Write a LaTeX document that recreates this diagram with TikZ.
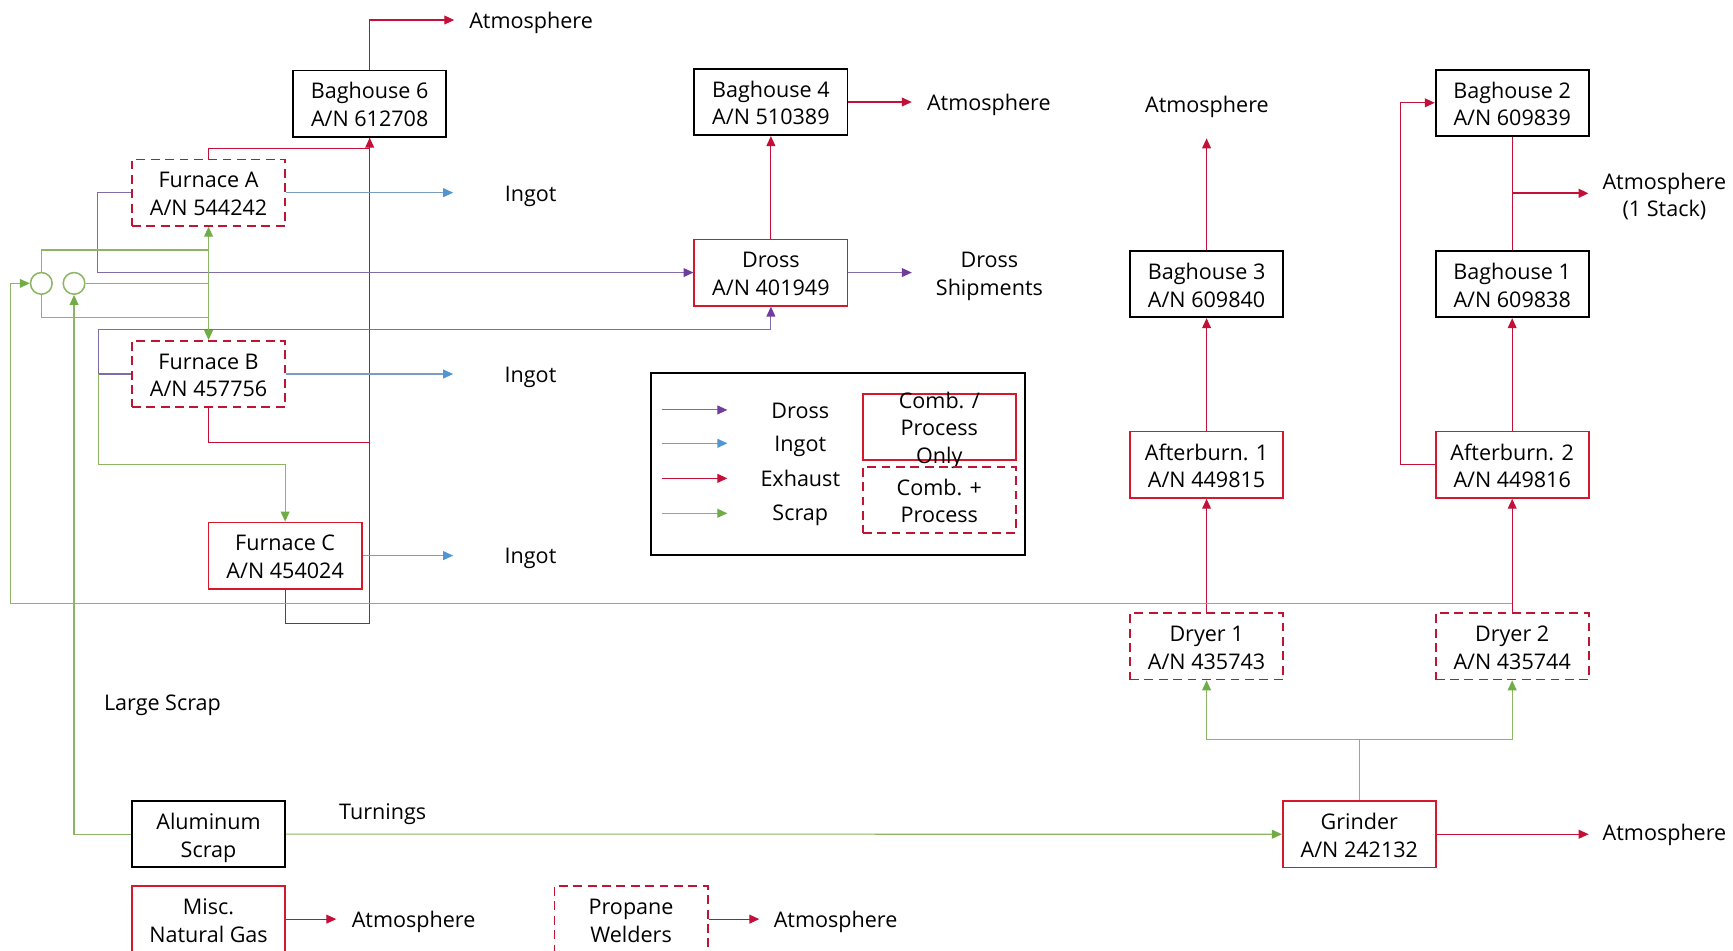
\documentclass[tikz,border=0pt]{standalone}
\usepackage{fontspec}
\setmainfont{Open Sans}
\usetikzlibrary{arrows.meta,calc}
\definecolor{exred}{RGB}{196,16,56}
\definecolor{boxred}{RGB}{214,24,44}
\definecolor{dashred}{RGB}{192,20,52}
\definecolor{scrapg}{RGB}{140,182,100}
\definecolor{scraptip}{RGB}{112,173,71}
\definecolor{drossp}{RGB}{128,108,168}
\definecolor{drosstip}{RGB}{112,60,160}
\definecolor{ingotb}{RGB}{120,158,196}
\definecolor{ingottip}{RGB}{80,150,210}
\newcommand\myfs{\fontsize{19.5}{25}\selectfont}
\newcommand\ftop{\rule{0pt}{22pt}}
\newcommand\fbot{\rule[-5.6pt]{0pt}{5.6pt}}
\begin{document}
\begin{tikzpicture}[x=1pt,y=-1pt,font=\myfs,
  base/.style={minimum width=138.5pt,minimum height=60pt,inner sep=0pt,align=center},
  blackbox/.style={base,draw=black,line width=1.6pt},
  redbox/.style={base,draw=boxred,line width=1.6pt},
  dashbox/.style={base,draw=dashred,line width=1.6pt,dash pattern=on 8pt off 5pt},
  lbl/.style={inner sep=0pt,anchor=base},
  lbl2/.style={inner sep=0pt,align=center},
  exl/.style={draw=exred,line width=1pt},
  exh/.style={exl,-{Triangle[length=9pt,width=8pt]}},
  scl/.style={draw=scrapg,line width=1pt},
  scr/.style={scl,-{Triangle[length=9pt,width=8pt,color=scraptip]}},
  scrb/.style={scl,{Triangle[length=9pt,width=8pt,color=scraptip]}-{Triangle[length=9pt,width=8pt,color=scraptip]}},
  drs/.style={draw=drossp,line width=1pt,-{Triangle[length=9pt,width=8pt,color=drosstip]}},
  ing/.style={draw=ingotb,line width=1pt,-{Triangle[length=9pt,width=8pt,color=ingottip]}},
  ring/.style={circle,draw=scrapg,line width=1.4pt,minimum size=19.6pt,inner sep=0pt}
]
\useasboundingbox (0,0) rectangle (1568,860);
\clip (0,0) rectangle (1568,860);

% ---------- boxes ----------
\node[blackbox] (bh6) at (334.5,93.8) {\ftop Baghouse 6\\A/N 612708\fbot};
\node[blackbox] (bh4) at (697.5,92.3) {\ftop Baghouse 4\\A/N 510389\fbot};
\node[dashbox] (fa) at (188.7,174.3) {\ftop Furnace A\\A/N 544242\fbot};
\node[redbox] (dross) at (697.5,246.6) {\ftop Dross\\A/N 401949\fbot};
\node[dashbox] (fb) at (188.7,338.4) {\ftop Furnace B\\A/N 457756\fbot};
\node[redbox] (fc) at (258,502.7) {\ftop Furnace C\\A/N 454024\fbot};
\node[blackbox] (bh3) at (1091.7,257.1) {\ftop Baghouse 3\\A/N 609840\fbot};
\node[blackbox] (bh2) at (1368.2,93) {\ftop Baghouse 2\\A/N 609839\fbot};
\node[blackbox] (bh1) at (1368.2,257.1) {\ftop Baghouse 1\\A/N 609838\fbot};
\node[redbox] (ab1) at (1091.7,420.5) {\ftop Afterburn. 1\\A/N 449815\fbot};
\node[redbox] (ab2) at (1368.2,420.5) {\ftop Afterburn. 2\\A/N 449816\fbot};
\node[dashbox] (dr1) at (1091.7,584.8) {\ftop Dryer 1\\A/N 435743\fbot};
\node[dashbox] (dr2) at (1368.2,584.8) {\ftop Dryer 2\\A/N 435744\fbot};
\node[redbox] (gr) at (1229.9,754.8) {\ftop Grinder\\A/N 242132\fbot};
\node[blackbox] (al) at (188.7,754.7) {\ftop Aluminum\\Scrap\fbot};
\node[redbox] (misc) at (188.7,831.6) {\ftop Misc.\\Natural Gas\fbot};
\node[dashbox] (prop) at (571,831.6) {\ftop Propane\\Welders\fbot};

% ---------- circles ----------
\node[ring] (c1) at (37.4,256.4) {};
\node[ring] (c2) at (67,256.4) {};

% ---------- labels ----------
\node[lbl] (atm6) at (480.5,25.6) {Atmosphere};
\node[lbl] (inga) at (480.1,181.9) {Ingot};
\node[lbl] (ingb) at (480,345.9) {Ingot};
\node[lbl] (ingc) at (480,509.7) {Ingot};
\node[lbl] (atm4) at (894.7,100.1) {Atmosphere};
\node[lbl2] (dship) at (895.2,246.5) {\ftop Dross\\Shipments\fbot};
\node[lbl] (atm3) at (1092,101.9) {Atmosphere};
\node[lbl2] (atms) at (1505.9,175.6) {\ftop Atmosphere\\(1 Stack)\fbot};
\node[lbl] (atmg) at (1506,760.1) {Atmosphere};
\node[lbl] (atmm) at (374.2,839.3) {Atmosphere};
\node[lbl] (atmp) at (756,839.3) {Atmosphere};
\node[lbl] (lscrap) at (147,642.4) {Large Scrap};
\node[lbl] (turn) at (346.2,741.3) {Turnings};

% ---------- free ends / junctions ----------
\coordinate (t6) at (411,18.1);
\coordinate (tia) at (410,174.3);
\coordinate (tib) at (410,338.4);
\coordinate (tic) at (410,502.7);
\coordinate (t4) at (825,92.3);
\coordinate (td) at (825,246.6);
\coordinate (t3) at (1091.7,125.2);
\coordinate (sj) at (1368.2,174.9);
\coordinate (ts) at (1437.2,174.9);
\coordinate (tg) at (1437.4,754.8);
\coordinate (tm) at (304.3,831.6);
\coordinate (tp) at (687,831.6);
\coordinate (jb) at (89.3,338.4);
\coordinate (pb) at (697.5,298.5);
\coordinate (gc) at (258,420.1);
\coordinate (v1) at (188.7,226.2);
\coordinate (v2) at (188.7,256.4);
\coordinate (v3) at (188.7,287.1);
\coordinate (rc) at (1368.2,545.9);
\coordinate (lc) at (9.7,545.9);

% ---------- exhaust ----------
\draw[exh] (bh6.north) |- (t6);
\draw[exl] (fa.north) -- ++(0,-9.5) -| (bh6.south);
\draw[exl] (fb.south) -- ++(0,31.2) -| (bh6.south);
\draw[exh] (fc.south) -- ++(0,30.6) -| (bh6.south);
\draw[exh] (dross.north) -- (bh4.south);
\draw[exh] (bh4.east) -- (t4);
\draw[exh] (dr1.north) -- (ab1.south);
\draw[exh] (dr2.north) -- (ab2.south);
\draw[exh] (ab1.north) -- (bh3.south);
\draw[exh] (ab2.north) -- (bh1.south);
\draw[exh] (bh3.north) -- (t3);
\draw[exh] (ab2.west) -- ++(-30.7,0) |- (bh2.west);
\draw[exl] (bh2.south) -- (bh1.north);
\draw[exh,line width=2pt] (sj) -- (ts);
\draw[exh] (gr.east) -- (tg);
\draw[exh] (misc.east) -- (tm);
\draw[exh] (prop.east) -- (tp);

% ---------- ingot ----------
\draw[ing] (fa.east) -- (tia);
\draw[ing] (fb.east) -- (tib);
\draw[ing] (fc.east) -- (tic);

% ---------- dross ----------
\draw[drs] (fa.west) -- ++(-30.2,0) |- (dross.west);
\draw[drs] (fb.west) -- (jb) |- (pb) -- (dross.south);
\draw[drs] (dross.east) -- (td);

% ---------- scrap ----------
\draw[scr] (jb) |- (gc) -- (fc.north);
\draw[scrb] (fa.south) -- (fb.north);
\draw[scl] (c1.north) |- (v1);
\draw[scl] (c2.east) -- (v2);
\draw[scl] (c1.south) |- (v3);
\draw[scr] (rc) -- (lc) |- (c1.west);
\draw[scr] (al.west) -| (c2.south);
\draw[scr] (al.east) -- (gr.west);
\draw[scr] (gr.north) -- ++(0,-55.2) -| (dr1.south);
\draw[scr] (gr.north) -- ++(0,-55.2) -| (dr2.south);

% ---------- legend ----------
\node[draw=black,line width=1.6pt,minimum width=338.4pt,minimum height=165pt,inner sep=0pt] (leg) at (758.2,419.7) {};
\node[redbox] (lcp) at (849.9,386.2) {};
\node[lbl2] (lcpt) at (849.9,386.2) {\ftop Comb. /\\Process\\Only\fbot};
\node[dashbox] (lcd) at (849.9,452.3) {\ftop Comb. +\\Process\fbot};
\coordinate (l1a) at (598.7,370.9); \coordinate (l1b) at (658.1,370.9);
\coordinate (l2a) at (598.7,401.1); \coordinate (l2b) at (658.1,401.1);
\coordinate (l3a) at (598.7,432.8); \coordinate (l3b) at (658.1,432.8);
\coordinate (l4a) at (598.7,464.4); \coordinate (l4b) at (658.1,464.4);
\draw[drs] (l1a) -- (l1b);
\draw[ing] (l2a) -- (l2b);
\draw[exh] (l3a) -- (l3b);
\draw[scr] (l4a) -- (l4b);
\node[lbl] (ld) at (724.1,378.5) {Dross};
\node[lbl] (li) at (724.1,408.6) {Ingot};
\node[lbl] (le) at (724.1,440.3) {Exhaust};
\node[lbl] (ls) at (724.1,470.5) {Scrap};
\end{tikzpicture}
\end{document}
